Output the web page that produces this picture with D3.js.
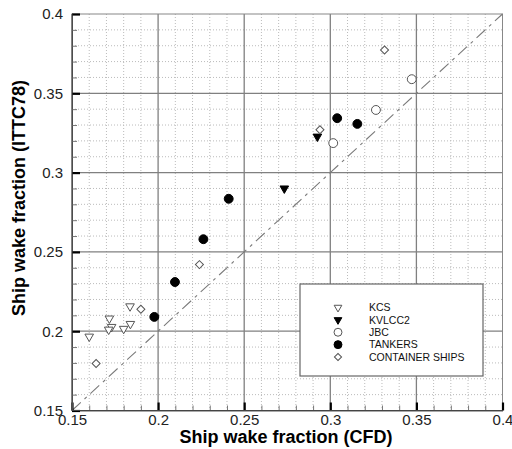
<!DOCTYPE html>
<html>
<head>
  <meta charset="UTF-8">
  <title></title>
  <style>
    body{ margin:0; background:#fff; font-family: 'Liberation Sans', Arial, Helvetica, sans-serif; }
    .tick text{ font-size:15px; fill:#222; }
    .title{ font-size:18px; font-weight:bold; fill:#000; }
    .legend text{ font-size:10.5px; fill:#111; }
  </style>
</head>
<body>
<script src="https://cdnjs.cloudflare.com/ajax/libs/d3/7.8.5/d3.min.js"></script>
<script>
/// data
var kcsX = [0.160, 0.1717, 0.173, 0.1713, 0.180, 0.1839, 0.1837];
var kcsY = [0.1966, 0.208, 0.2027, 0.201, 0.2015, 0.2046, 0.2157];
var kvlccX = [0.2733, 0.2925];
var kvlccY = [0.290, 0.3227];
var jbcX = [0.3017, 0.3265, 0.3473];
var jbcY = [0.3186, 0.3395, 0.3589];
var tankX = [0.1978, 0.2098, 0.2263, 0.241, 0.304, 0.3157];
var tankY = [0.209, 0.231, 0.258, 0.2835, 0.3343, 0.3307];
var contX = [0.164, 0.190, 0.224, 0.294, 0.3315];
var contY = [0.1796, 0.2138, 0.242, 0.327, 0.3773];

var majorTicks = [0.15, 0.2, 0.25, 0.3, 0.35, 0.4];
var tickLabels = ["0.15", "0.2", "0.25", "0.3", "0.35", "0.4"];
var minorTicks = d3.range(16, 40).map(function(d){ return d / 100; }).filter(function(d){ return Math.round(d*100) % 5 !== 0; });
var legendNames = ["KCS", "KVLCC2", "JBC", "TANKERS", "CONTAINER SHIPS"];

/// layout
var width = 512, height = 449;
var pLeft = 72, pRight = 502.5, pTop = 14, pBottom = 410.5;

var x = d3.scaleLinear().domain([0.15, 0.4]).range([pLeft, pRight]);
var y = d3.scaleLinear().domain([0.15, 0.4]).range([pBottom, pTop]);

var svg = d3.select("body").append("svg")
    .attr("width", width)
    .attr("height", height);

// minor grid
svg.append("g").selectAll("line").data(minorTicks).enter().append("line")
    .attr("x1", function(d){ return x(d); }).attr("x2", function(d){ return x(d); })
    .attr("y1", pTop).attr("y2", pBottom)
    .attr("stroke", "#bbb").attr("stroke-dasharray", "1,2");
svg.append("g").selectAll("line").data(minorTicks).enter().append("line")
    .attr("y1", function(d){ return y(d); }).attr("y2", function(d){ return y(d); })
    .attr("x1", pLeft).attr("x2", pRight)
    .attr("stroke", "#bbb").attr("stroke-dasharray", "1,2");

// major grid
svg.append("g").selectAll("line").data(majorTicks.slice(1, -1)).enter().append("line")
    .attr("x1", function(d){ return x(d); }).attr("x2", function(d){ return x(d); })
    .attr("y1", pTop).attr("y2", pBottom)
    .attr("stroke", "#808080").attr("stroke-width", 1.3);
svg.append("g").selectAll("line").data(majorTicks.slice(1, -1)).enter().append("line")
    .attr("y1", function(d){ return y(d); }).attr("y2", function(d){ return y(d); })
    .attr("x1", pLeft).attr("x2", pRight)
    .attr("stroke", "#808080").attr("stroke-width", 1.3);

// frame
svg.append("rect")
    .attr("x", pLeft).attr("y", pTop)
    .attr("width", pRight - pLeft).attr("height", pBottom - pTop)
    .attr("fill", "none").attr("stroke", "#888");

// diagonal
svg.append("line")
    .attr("x1", x(0.15)).attr("y1", y(0.15))
    .attr("x2", x(0.4)).attr("y2", y(0.4))
    .attr("stroke", "#7a7a7a").attr("stroke-width", 1.1)
    .attr("stroke-dasharray", "12,5,3,5");

// axes (ticks inside)
var fmt = function(d){ return tickLabels[majorTicks.indexOf(d)]; };
var xAxis = svg.append("g").attr("transform", "translate(0," + pBottom + ")")
    .call(d3.axisBottom(x).tickValues(majorTicks).tickFormat(fmt).tickSizeInner(-8).tickSizeOuter(0).tickPadding(4));
var yAxis = svg.append("g").attr("transform", "translate(" + pLeft + ",0)")
    .call(d3.axisLeft(y).tickValues(majorTicks).tickFormat(fmt).tickSizeInner(-8).tickSizeOuter(0).tickPadding(9));
[xAxis, yAxis].forEach(function(a){
  a.select(".domain").attr("stroke", "#555");
  a.selectAll(".tick line").attr("stroke", "#000").attr("stroke-width", 2.2);
  a.selectAll(".tick text").attr("font-family", null).attr("font-size", null);
});

svg.append("g").attr("transform", "translate(0," + pBottom + ")")
    .call(d3.axisBottom(x).tickValues(minorTicks).tickFormat("").tickSizeInner(-5).tickSizeOuter(0))
    .call(function(g){ g.select(".domain").remove(); g.selectAll("line").attr("stroke", "#777"); });
svg.append("g").attr("transform", "translate(" + pLeft + ",0)")
    .call(d3.axisLeft(y).tickValues(minorTicks).tickFormat("").tickSizeInner(-5).tickSizeOuter(0))
    .call(function(g){ g.select(".domain").remove(); g.selectAll("line").attr("stroke", "#777"); });

// darker bottom / left axis lines
svg.append("line").attr("x1", pLeft).attr("x2", pRight).attr("y1", pBottom).attr("y2", pBottom).attr("stroke", "#444");
svg.append("line").attr("x1", pLeft).attr("x2", pLeft).attr("y1", pTop).attr("y2", pBottom).attr("stroke", "#444");

// titles
svg.append("text").attr("class", "title")
    .attr("x", 286).attr("y", 443)
    .attr("text-anchor", "middle")
    .text("Ship wake fraction (CFD)");
svg.append("text").attr("class", "title")
    .attr("transform", "translate(25,198) rotate(-90)")
    .attr("text-anchor", "middle")
    .text("Ship wake fraction (ITTC78)");

/// markers
var series = [
  {xs: kcsX, ys: kcsY, type: d3.symbolTriangle, rot: 180, fill: "#fff", size: 32},
  {xs: kvlccX, ys: kvlccY, type: d3.symbolTriangle, rot: 180, fill: "#000", size: 32},
  {xs: jbcX, ys: jbcY, type: d3.symbolCircle, rot: 0, fill: "#fff", size: 62},
  {xs: tankX, ys: tankY, type: d3.symbolCircle, rot: 0, fill: "#000", size: 62},
  {xs: contX, ys: contY, type: d3.symbolSquare, rot: 45, fill: "#fff", size: 32}
];

series.forEach(function(s){
  var sym = d3.symbol().type(s.type).size(s.size);
  svg.append("g").selectAll("path")
      .data(s.xs.map(function(v, i){ return [v, s.ys[i]]; }))
      .enter().append("path")
      .attr("d", sym)
      .attr("transform", function(d){ return "translate(" + x(d[0]) + "," + y(d[1]) + ") rotate(" + s.rot + ")"; })
      .attr("fill", s.fill)
      .attr("stroke", s.fill === "#000" ? "#000" : "#555")
      .attr("stroke-width", 1);
});

/// legend
var lg = svg.append("g").attr("class", "legend");
lg.append("rect")
    .attr("x", 300).attr("y", 284).attr("width", 183).attr("height", 92)
    .attr("fill", "#fff").attr("stroke", "#666").attr("stroke-width", 1.2);
var rowY = d3.scaleLinear().domain([0, 4]).range([307.5, 357]);
legendNames.forEach(function(name, i){
  var s = series[i];
  lg.append("path")
      .attr("d", d3.symbol().type(s.type).size(s.size * 0.8))
      .attr("transform", "translate(338," + rowY(i) + ") rotate(" + s.rot + ")")
      .attr("fill", s.fill)
      .attr("stroke", s.fill === "#000" ? "#000" : "#555");
  lg.append("text")
      .attr("x", 369).attr("y", rowY(i)).attr("dy", "0.36em")
      .text(name);
});
</script>
</body>
</html>
